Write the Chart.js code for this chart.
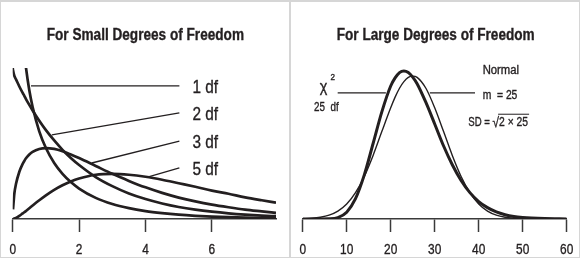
<!DOCTYPE html>
<html>
<head>
<meta charset="utf-8">
<script src="https://cdn.jsdelivr.net/npm/chart.js@4.4.0/dist/chart.umd.min.js"></script>
<style>
  body { margin: 0; background: #fff; }
  #frame { position: absolute; left: 0; top: 0; width: 580px; height: 258px; box-sizing: border-box; border: 1px solid #d6d6d6; border-top-width: 2px; }
  #divider { position: absolute; left: 289px; top: 0; width: 2px; height: 258px; background: #d6d6d6; }
  canvas { position: absolute; top: 0; }
</style>
</head>
<body>
<div id="frame"></div>
<div id="divider"></div>
<canvas id="small" width="290" height="258" style="left:0"></canvas>
<canvas id="large" width="290" height="258" style="left:290px"></canvas>
<script>
// Left panel: chi-square curves for small degrees of freedom
var smallX = [0, 0.01, 0.05, 0.1, 0.2, 0.3, 0.35, 0.4, 0.5, 0.6, 0.8, 1, 1.25, 1.5, 1.75, 2, 2.5, 3, 3.5, 4, 4.5, 5, 5.5, 6, 6.5, 7, 7.5, 7.93];
var df1 = [null, null, null, null, null, 0.627, 0.566, 0.516, 0.439, 0.382, 0.299, 0.242, 0.191, 0.154, 0.126, 0.104, 0.072, 0.051, 0.037, 0.027, 0.020, 0.0147, 0.0109, 0.0081, 0.0061, 0.0046, 0.0034, 0.0027];
var df2 = [0.515, 0.507, 0.488, 0.476, 0.452, 0.430, 0.420, 0.409, 0.389, 0.370, 0.335, 0.303, 0.268, 0.236, 0.208, 0.184, 0.143, 0.112, 0.087, 0.068, 0.053, 0.041, 0.032, 0.025, 0.0194, 0.0151, 0.0118, 0.0095];
var df3 = [null, 0.033, 0.087, 0.120, 0.161, 0.188, 0.198, 0.207, 0.220, 0.229, 0.239, 0.242, 0.239, 0.231, 0.220, 0.208, 0.181, 0.154, 0.130, 0.108, 0.089, 0.073, 0.060, 0.049, 0.040, 0.032, 0.026, 0.021];
var df5 = [0, 0.0001, 0.0015, 0.004, 0.011, 0.019, 0.023, 0.0275, 0.0366, 0.0458, 0.0638, 0.0807, 0.0995, 0.115, 0.128, 0.138, 0.151, 0.154, 0.151, 0.144, 0.134, 0.122, 0.110, 0.097, 0.086, 0.074, 0.064, 0.056];
var smallTicks = [0, 2, 4, 6];
var smallLabels = ['1 df', '2 df', '3 df', '5 df'];
var smallFrom = [[0.55, 0.454], [1.18, 0.287], [2.38, 0.191], [4.06, 0.143]];
var smallTo = [[5.02, 0.454], [5.02, 0.362], [5.02, 0.266], [5.02, 0.174]];

// Right panel: chi-square with 25 df against a normal curve
var largeX = [0, 2, 4, 6, 8, 10, 12, 14, 16, 18, 20, 21, 22, 23, 24, 25, 26, 28, 30, 32, 34, 36, 38, 40, 42, 44, 46, 48, 50, 52, 55, 60];
var chi25 = [0, 0, 0, 0.00006, 0.00056, 0.0027, 0.0080, 0.0174, 0.0298, 0.0424, 0.0525, 0.0557, 0.0578, 0.0584, 0.0578, 0.0560, 0.0534, 0.0460, 0.0375, 0.0289, 0.0214, 0.0152, 0.0104, 0.0069, 0.0045, 0.0028, 0.0017, 0.0010, 0.0006, 0.00035, 0.00015, 0.00003];
var normal = [0.0001, 0.0003, 0.0007, 0.0015, 0.0031, 0.0059, 0.0104, 0.0168, 0.0251, 0.0346, 0.0439, 0.0481, 0.0516, 0.0542, 0.0559, 0.0564, 0.0559, 0.0516, 0.0439, 0.0346, 0.0251, 0.0168, 0.0104, 0.0059, 0.0031, 0.0015, 0.0007, 0.0003, 0.0001, 0.00004, 0.00001, 0];
var largeTicks = [0, 10, 20, 30, 40, 50, 60];
var largeLeader = [[7.95, 18.9], [28.9, 39.16]];
var largeLeaderY = 0.0498;

var INK = '#231f20';
var AXIS = '#3a3a3a';
var FAMILY = "'Liberation Sans', Arial, sans-serif";

// condensed-looking text: squeeze a normal face horizontally
function say(ctx, str, x, y, size, squeeze, weight, align) {
  ctx.save();
  ctx.font = (weight || 'normal') + ' ' + size + 'px ' + FAMILY;
  ctx.textBaseline = 'middle';
  ctx.textAlign = align || 'left';
  ctx.fillStyle = INK;
  ctx.strokeStyle = INK;
  ctx.lineWidth = 0.35;
  ctx.translate(x, y);
  ctx.scale(squeeze, 1);
  ctx.fillText(str, 0, 0);
  ctx.strokeText(str, 0, 0);
  var w = ctx.measureText(str).width * squeeze;
  ctx.restore();
  return w;
}

function pts(xs, ys) {
  return xs.map(function (x, i) { return { x: x, y: ys[i] }; });
}

function curve(xs, ys, width) {
  return {
    data: pts(xs, ys), borderColor: INK, borderWidth: width, pointRadius: 0,
    cubicInterpolationMode: 'monotone', fill: false
  };
}

// title and tick labels, drawn narrow like the original
var frameText = {
  id: 'frameText',
  afterDraw: function (chart, args, opts) {
    var ctx = chart.ctx, area = chart.chartArea, sx = chart.scales.x;
    say(ctx, opts.title, (area.left + area.right) / 2 + 1, 36, 16, 0.85, 'bold', 'center');
    opts.ticks.forEach(function (v) {
      say(ctx, String(v), sx.getPixelForValue(v), area.bottom + 31, 14.5, 0.82, 'normal', 'center');
    });
  }
};

function panelOptions(title, xMax, yMax, ticks, padRight) {
  return {
    responsive: false, animation: false, events: [],
    layout: { padding: { left: 12.7, right: padRight, top: 68, bottom: 0 } },
    plugins: {
      legend: { display: false },
      tooltip: { enabled: false },
      title: { display: false },
      frameText: { title: title, ticks: ticks }
    },
    scales: {
      x: {
        type: 'linear', min: 0, max: xMax,
        afterBuildTicks: function (s) { s.ticks = ticks.map(function (v) { return { value: v }; }); },
        afterFit: function (s) { s.height = 39; },
        ticks: { display: false },
        grid: { drawOnChartArea: false, drawTicks: true, tickLength: 13, tickColor: AXIS, tickWidth: 1.5 },
        border: { display: true, color: AXIS, width: 1.5 }
      },
      y: { display: false, min: 0, max: yMax }
    }
  };
}

var smallNotes = {
  id: 'smallNotes',
  afterDatasetsDraw: function (chart) {
    var ctx = chart.ctx, sx = chart.scales.x, sy = chart.scales.y;
    ctx.save();
    ctx.strokeStyle = INK; ctx.lineWidth = 1.3;
    smallLabels.forEach(function (label, i) {
      var x0 = sx.getPixelForValue(smallFrom[i][0]), y0 = sy.getPixelForValue(smallFrom[i][1]);
      var x1 = sx.getPixelForValue(smallTo[i][0]), y1 = sy.getPixelForValue(smallTo[i][1]);
      ctx.beginPath(); ctx.moveTo(x0, y0); ctx.lineTo(x1, y1); ctx.stroke();
      say(ctx, label, x1 + 13, y1 + 2, 18.5, 0.83);
    });
    ctx.restore();
  }
};

var largeNotes = {
  id: 'largeNotes',
  afterDatasetsDraw: function (chart) {
    var ctx = chart.ctx, sx = chart.scales.x, sy = chart.scales.y;
    function px(v) { return sx.getPixelForValue(v); }
    function py(v) { return sy.getPixelForValue(v); }
    ctx.save();
    ctx.strokeStyle = INK; ctx.lineWidth = 1.3;
    largeLeader.forEach(function (seg) {
      ctx.beginPath(); ctx.moveTo(px(seg[0]), py(largeLeaderY)); ctx.lineTo(px(seg[1]), py(largeLeaderY)); ctx.stroke();
    });
    say(ctx, '\u03c7', px(3.9), py(0.0520), 16, 0.9);
    say(ctx, '2', px(6.3), py(0.0560), 9, 0.9);
    say(ctx, '25  df', px(2.57), py(0.0440), 12, 0.82);
    say(ctx, 'Normal', px(40.9), py(0.0586), 12, 0.94);
    say(ctx, 'm  = 25', px(40.9), py(0.0485), 12, 0.86);
    var sdY = py(0.0380);
    var x = px(37.64);
    x += say(ctx, 'SD = ', x, sdY, 12, 0.8);
    x += say(ctx, '\u221a', x, sdY + 0.5, 14, 0.85);
    var tw = say(ctx, '2 \u00d7 25', x, sdY, 12, 0.86);
    ctx.strokeStyle = INK;
    ctx.lineWidth = 1;
    ctx.beginPath();
    ctx.moveTo(x - 1, sdY - 8.5);
    ctx.lineTo(x + tw + 1, sdY - 8.5);
    ctx.stroke();
    ctx.restore();
  }
};

new Chart(document.getElementById('small').getContext('2d'), {
  type: 'line',
  data: { datasets: [curve(smallX, df1, 2.7), curve(smallX, df2, 2.7), curve(smallX, df3, 2.7), curve(smallX, df5, 2.7)] },
  options: panelOptions('For Small Degrees of Freedom', 7.93, 0.515, smallTicks, 14),
  plugins: [smallNotes, frameText]
});

new Chart(document.getElementById('large').getContext('2d'), {
  type: 'line',
  data: { datasets: [curve(largeX, normal, 1.4), curve(largeX, chi25, 3)] },
  options: panelOptions('For Large Degrees of Freedom', 60, 0.0596, largeTicks, 13.3),
  plugins: [largeNotes, frameText]
});
</script>
</body>
</html>
